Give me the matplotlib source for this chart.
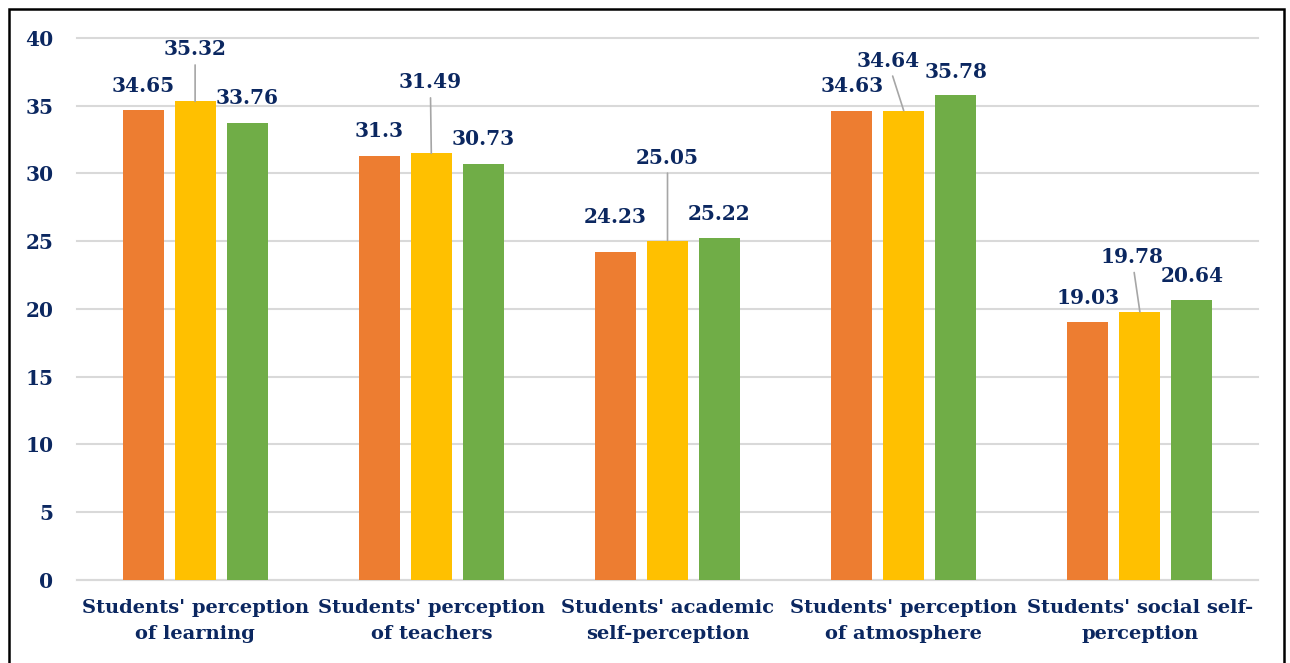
import matplotlib.pyplot as plt
from matplotlib.patches import Rectangle
import numpy as np

# Mean scores per domain, three groups each
categories = ["Students' perception\nof learning",
              "Students' perception\nof teachers",
              "Students' academic\nself-perception",
              "Students' perception\nof atmosphere",
              "Students' social self-\nperception"]
group1 = [34.65, 31.3, 24.23, 34.63, 19.03]
group2 = [35.32, 31.49, 25.05, 34.64, 19.78]
group3 = [33.76, 30.73, 25.22, 35.78, 20.64]
yticks = [0, 5, 10, 15, 20, 25, 30, 35, 40]

navy = '#0B2760'
colors = ['#ED7D31', '#FFC000', '#70AD47']
font = ['DejaVu Serif']

# label offsets above bar top (pixels)
off1 = [(0, 24), (0, 25), (0, 35), (0, 25), (0, 24)]
off2 = [(0, 52), (-1, 71), (0, 83), (-16, 50), (-8, 55)]
off3 = [(0, 25), (0, 25), (0, 24), (0, 23), (0, 24)]

fig = plt.figure(figsize=(12.9, 6.63), dpi=100)
ax = fig.add_axes([0.0597, 0.1252, 0.9155, 0.8175])

x = np.arange(len(categories))
w = 0.174
step = 0.22
series = [group1, group2, group3]
offsets = [off1, off2, off3]
for i, (vals, col, offs) in enumerate(zip(series, colors, offsets)):
    xs = x + (i - 1) * step
    ax.bar(xs, vals, width=w, color=col, zorder=3)
    for xi, v, (dx, dy) in zip(xs, vals, offs):
        lbl = f"{v:g}"
        if i == 1:
            ax.annotate(lbl, xy=(xi, v), xytext=(dx * 0.72, dy * 0.72),
                        textcoords='offset points', ha='center', va='center',
                        fontsize=14.5, fontweight='bold', color=navy, family=font,
                        arrowprops=dict(arrowstyle='-', color='#A6A6A6', lw=1.2,
                                        shrinkA=2, shrinkB=0))
        else:
            ax.annotate(lbl, xy=(xi, v), xytext=(dx * 0.72, dy * 0.72),
                        textcoords='offset points', ha='center', va='center',
                        fontsize=14.5, fontweight='bold', color=navy, family=font)

ax.set_xlim(-0.5, len(categories) - 0.5)
ax.set_ylim(0, 40)
ax.set_yticks(yticks)
ax.set_xticks(x)
ax.set_xticklabels(categories, fontsize=14, fontweight='bold', color=navy,
                   family=font, linespacing=1.55)
for t in ax.get_yticklabels():
    t.set_fontsize(14.5)
    t.set_fontweight('bold')
    t.set_color(navy)
    t.set_family(font)
ax.tick_params(axis='both', length=0)
ax.tick_params(axis='y', pad=17)
ax.tick_params(axis='x', pad=14)
ax.grid(axis='y', color='#D9D9D9', lw=1.5, zorder=0)
for gl in ax.get_ygridlines():
    gl.set_clip_on(False)
for s in ['top', 'right', 'left']:
    ax.spines[s].set_visible(False)
ax.spines['bottom'].set_color('#D9D9D9')
ax.spines['bottom'].set_linewidth(1.5)

# outer frame
fig.patches.append(Rectangle((9 / 1290, -0.01), 1275 / 1290, 1.01 - 9 / 663,
                             transform=fig.transFigure, fill=False,
                             edgecolor='black', lw=1.8))

fig.savefig('out.png', dpi=100)
